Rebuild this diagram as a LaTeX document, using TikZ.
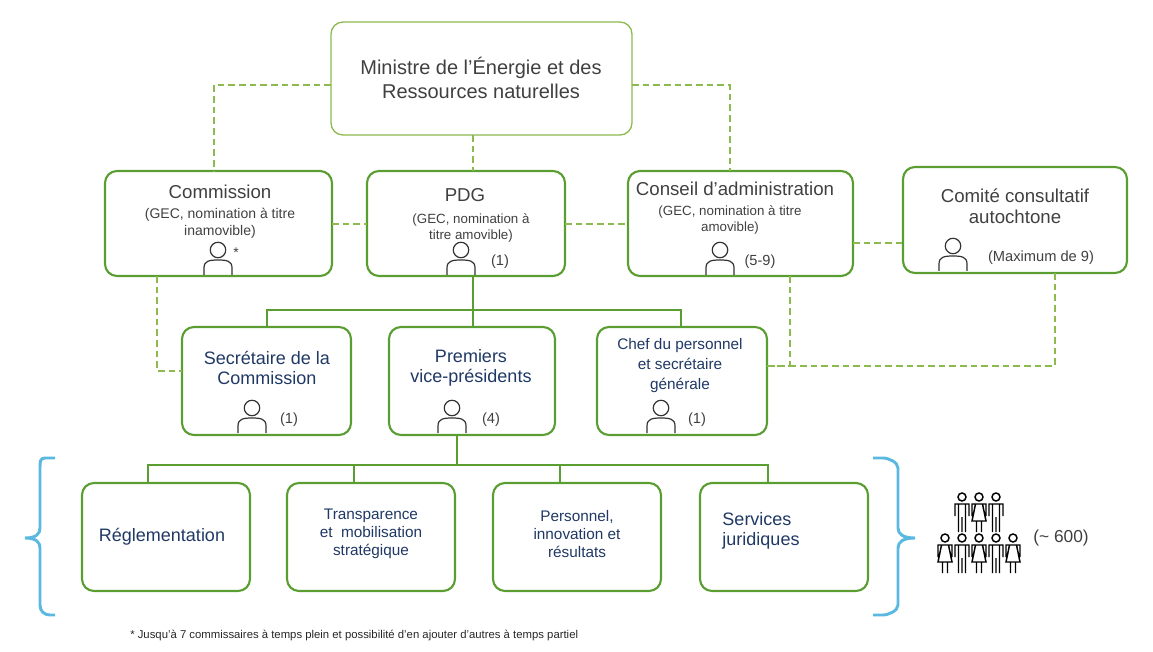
\documentclass[tikz,border=0pt]{standalone}
\usepackage{fontspec}
\setmainfont{Liberation Sans}
\begin{document}
\begin{tikzpicture}[x=0.75pt,y=-0.75pt,
  box/.style={draw=boxg,line width=1.6pt,rounded corners=9pt},
  dsh/.style={draw=lg,line width=1.2pt,dash pattern=on 5pt off 3pt},
  sol/.style={draw=boxg,line width=1.5pt},
  txt/.style={text=tg,align=center,inner sep=0pt},
  ttl/.style={txt,font=\fontsize{14}{16}\selectfont},
  sub/.style={txt,font=\fontsize{10.5}{12.5}\selectfont},
  lo/.style={align=center,inner sep=0pt,text=navy,font=\fontsize{13.5}{15.5}\selectfont},
  person/.pic={\draw[line width=0.9pt,black!80] (0,-12) circle[radius=5.8pt]
     (-14,13) -- (-14,6) .. controls (-14,-1) and (-9,-2) .. (0,-2) .. controls (9,-2) and (14,-1) .. (14,6) -- (14,13);},
  fig/.pic={\draw[line width=1.1pt,black] (0,-15) circle[radius=3pt]
     (-7,4) -- (-7,-8) -- (7,-8) -- (7,4) (-3.5,-8) -- (-3.5,20) (3.5,-8) -- (3.5,20) (0,5)--(0,20);},
  figw/.pic={\draw[line width=1.1pt,black] (0,-15) circle[radius=3pt]
     (-7,4) -- (-7,-8) -- (7,-8) -- (7,4) (-3.5,-8) -- (-7,9) -- (7,9) -- (3.5,-8) (-2.5,9) -- (-2.5,20) (2.5,9) -- (2.5,20);}
]
\definecolor{boxg}{HTML}{5A9E32}
\definecolor{lg}{HTML}{8DBA4E}
\definecolor{tg}{HTML}{404040}
\definecolor{navy}{HTML}{1F3864}
\definecolor{blu}{HTML}{5BB8E0}
\useasboundingbox (0,0) rectangle (1153,652);
% boxes
\draw[draw=lg,line width=1pt,rounded corners=9pt] (331,22) rectangle (632,135);
\node[ttl,font=\fontsize{15}{18}\selectfont] (min) at (481,78) {Ministre de l’Énergie et des\\Ressources naturelles};
\draw[box] (105,171) rectangle (332,276);
\draw[box] (367,171) rectangle (565,276);
\draw[box] (628,171) rectangle (853,276);
\draw[box] (903,167) rectangle (1127,273);
\draw[box] (182,327) rectangle (351,435);
\draw[box] (389,327) rectangle (555,435);
\draw[box] (597,327) rectangle (767,435);
\foreach \x in {82,287,493,700}{\draw[box] (\x,483) rectangle ++(168,108);}
% dashed connectors
\coordinate (a1) at (331,85); \coordinate (a2) at (214,85); \coordinate (a3) at (214,171);
\draw[dsh] (a1) -- (a2) -- (a3);
\coordinate (b1) at (632,85); \coordinate (b2) at (730,85); \coordinate (b3) at (730,171);
\draw[dsh] (b1) -- (b2) -- (b3);
\coordinate (c1) at (473,135); \coordinate (c2) at (473,171);
\draw[dsh] (c1) -- (c2);
\coordinate (d1) at (332,224); \coordinate (d2) at (367,224); \draw[dsh] (d1) -- (d2);
\coordinate (e1) at (565,224); \coordinate (e2) at (628,224); \draw[dsh] (e1) -- (e2);
\coordinate (f1) at (853,243); \coordinate (f2) at (903,243); \draw[dsh] (f1) -- (f2);
\coordinate (g1) at (157,276); \coordinate (g2) at (157,371); \coordinate (g3) at (182,371);
\draw[dsh] (g1) -- (g2) -- (g3);
\coordinate (h1) at (790,276); \coordinate (h2) at (790,366); \coordinate (h3) at (767,366);
\draw[dsh] (h1) -- (h2) -- (h3);
\coordinate (i1) at (1055,273); \coordinate (i2) at (1055,366);
\draw[dsh] (i1) -- (i2) -- (h3);
% solid tree
\coordinate (p0) at (473,276); \coordinate (p1) at (473,310);
\draw[sol] (p0) -- (p1);
\draw[sol] (267,327) -- (267,310) -- (681,310) -- (681,327) (473,310) -- (473,327);
\coordinate (q0) at (457,435); \coordinate (q1) at (457,465);
\draw[sol] (q0) -- (q1);
\draw[sol] (148,483) -- (148,465) -- (768,465) -- (768,483) (354,465) -- (354,483) (560,465) -- (560,483);
% texts
\node[ttl] (t1) at (220,192) {Commission};
\node[sub] (s1) at (220,223) {(GEC, nomination à titre\\inamovible)};
\node[ttl] (t2) at (465,195) {PDG};
\node[sub,font=\fontsize{10}{12.5}\selectfont] (s2) at (471,228) {(GEC, nomination à\\titre amovible)};
\node[ttl] (t3) at (735,189) {Conseil d’administration};
\node[sub,font=\fontsize{10}{12.5}\selectfont] (s3) at (730,220) {(GEC, nomination à titre\\amovible)};
\node[ttl] (t4) at (1015,206) {Comité consultatif\\autochtone};
\node[lo] (u1) at (267,368) {Secrétaire de la\\Commission};
\node[lo] (u2) at (471,368) {Premiers\\vice-présidents};
\node[lo,font=\fontsize{11.5}{15}\selectfont] (u3) at (680,366) {Chef du personnel\\et secrétaire\\générale};
\node[lo] (l1) at (162,537) {Réglementation};
\node[lo,font=\fontsize{11.5}{13.5}\selectfont] (l2) at (371,534) {Transparence\\et\ \ mobilisation\\stratégique};
\node[lo,font=\fontsize{11.5}{13.5}\selectfont] (l3) at (577,534) {Personnel,\\innovation et\\résultats};
\node[lo,align=left] (l4) at (761,531) {Services\\juridiques};
% persons
\pic at (218,262) {person}; \node[sub] (k1) at (236,253) {*};
\pic at (461,262) {person}; \node[sub,font=\fontsize{11}{12}\selectfont] (k2) at (500,262) {(1)};
\pic at (720,262) {person}; \node[sub,font=\fontsize{11}{12}\selectfont] (k3) at (760,262) {(5-9)};
\pic at (953,258) {person}; \node[sub,font=\fontsize{11}{12}\selectfont] (k4) at (1041,258) {(Maximum de 9)};
\pic at (252,420) {person}; \node[sub,font=\fontsize{11}{12}\selectfont] (k5) at (289,420) {(1)};
\pic at (452,420) {person}; \node[sub,font=\fontsize{11}{12}\selectfont] (k6) at (491,420) {(4)};
\pic at (661,420) {person}; \node[sub,font=\fontsize{11}{12}\selectfont] (k7) at (697,420) {(1)};
% braces
\draw[blu,line width=2.2pt] (55,458) -- (45,458) .. controls (40,458) and (40,462) .. (40,468) -- (40,528) .. controls (40,534) and (36,538) .. (25,538) .. controls (36,538) and (40,542) .. (40,548) -- (40,605) .. controls (40,611) and (44,615) .. (50,615) -- (55,615);
\draw[blu,line width=2.2pt] (873,458) -- (883,458) .. controls (888,458) and (898,462) .. (898,468) -- (898,528) .. controls (898,534) and (903,538) .. (915,538) .. controls (903,538) and (898,542) .. (898,548) -- (898,605) .. controls (898,611) and (888,615) .. (883,615) -- (873,615);
% crowd
\pic at (962,512) {fig}; \pic at (979,512) {figw}; \pic at (996,512) {fig};
\pic at (945,553) {figw}; \pic at (962,553) {fig}; \pic at (979,553) {figw}; \pic at (996,553) {fig}; \pic at (1013,553) {figw};
\node[sub,font=\fontsize{13}{14}\selectfont] (cr) at (1061,538) {(\textasciitilde{} 600)};
\node[sub,anchor=west,font=\fontsize{8.5}{10}\selectfont,text=black!85] (fn) at (130,635) {* Jusqu’à 7 commissaires à temps plein et possibilité d’en ajouter d’autres à temps partiel};
\end{tikzpicture}
\end{document}
